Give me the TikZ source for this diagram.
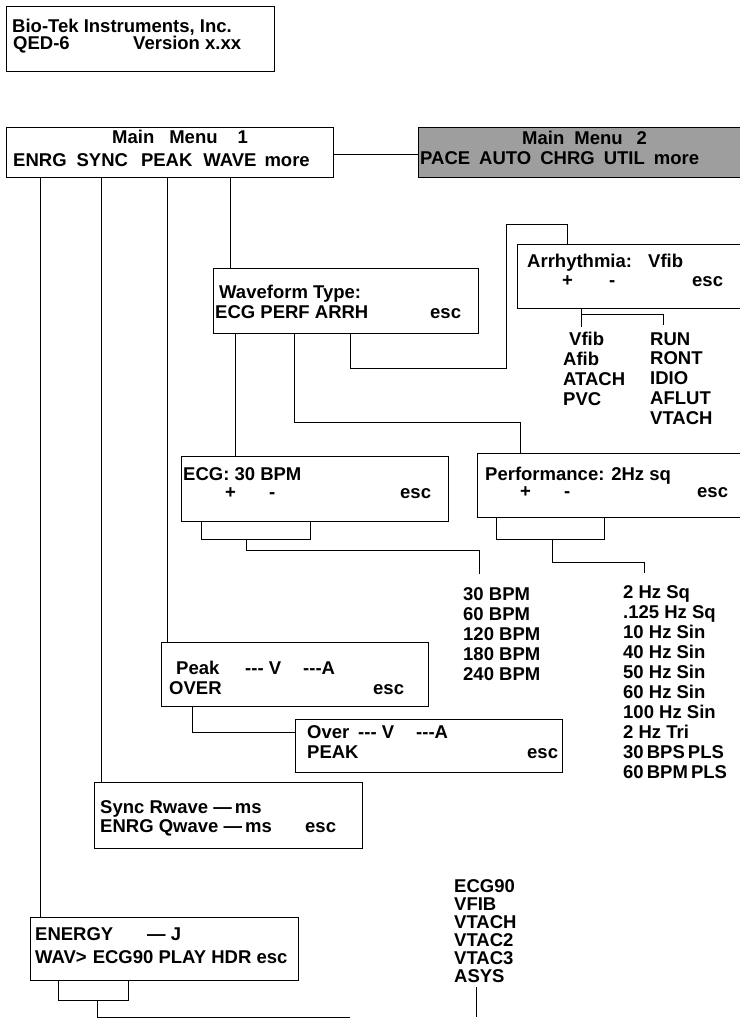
\documentclass[tikz,border=0pt]{standalone}
\usepackage{fontspec}
\setmainfont{Liberation Sans}
\newcommand{\lcdfont}{\fontsize{18.5}{20}\selectfont\bfseries}
\tikzset{
  lcd/.style={draw,line width=1.2pt,anchor=north west,inner sep=0pt},
  wire/.style={line width=0.9pt},
  txt/.style={anchor=base west,inner sep=0pt,font=\lcdfont},
}

\begin{document}
\begin{tikzpicture}[x=1pt,y=-1pt]
    \useasboundingbox (0,0) rectangle (739,1019);
    % display boxes
    \node[lcd,minimum width=268pt,minimum height=65pt] (biotek) at (6,6) {};
    \node[lcd,minimum width=327pt,minimum height=50pt] (mmone) at (6,127) {};
    \node[lcd,fill=black!38,minimum width=330pt,minimum height=50pt] (mmtwo) at (418,127) {};
    \node[lcd,minimum width=265pt,minimum height=65pt] (wavetype) at (213,268) {};
    \node[lcd,minimum width=232pt,minimum height=64pt] (arrh) at (517,244) {};
    \node[lcd,minimum width=267pt,minimum height=65pt] (ecg) at (181,456) {};
    \node[lcd,minimum width=272pt,minimum height=64pt] (perf) at (477,453) {};
    \node[lcd,minimum width=267pt,minimum height=64pt] (peak) at (161,642) {};
    \node[lcd,minimum width=267pt,minimum height=53pt] (over) at (295,719) {};
    \node[lcd,minimum width=268pt,minimum height=66pt] (sync) at (94,782) {};
    \node[lcd,minimum width=268pt,minimum height=63pt] (energy) at (30,917) {};

    % texts
    \node[txt] (biotek-a) at (12,33) {Bio-Tek Instruments, Inc.};
    \node[txt] (biotek-b) at (13,50) {QED-6};
    \node[txt] (biotek-c) at (133,50) {Version x.xx};

    \node[txt] (mmone-a) at (112,144) {Main\hspace{15pt}Menu\hspace{20pt}1};
    \node[txt] (mmone-b) at (13,167) {ENRG\hspace{10pt}SYNC\hspace{13pt}PEAK\hspace{11pt}WAVE\hspace{8pt}more};
    \node[txt] (mmtwo-a) at (522,145) {Main\hspace{10pt}Menu\hspace{14pt}2};
    \node[txt] (mmtwo-b) at (420,165) {PACE\hspace{9pt}AUTO\hspace{9pt}CHRG\hspace{9pt}UTIL\hspace{9pt}more};

    \node[txt] (wavetype-a) at (219,298) {Waveform Type:};
    \node[txt] (wavetype-b) at (215,318) {ECG PERF ARRH};
    \node[txt] (wavetype-esc) at (430,318) {esc};

    \node[txt] (arrh-a) at (527,267) {Arrhythmia:};
    \node[txt] (arrh-b) at (648,267) {Vfib};
    \node[txt] (arrh-plus) at (562,286) {+};
    \node[txt] (arrh-minus) at (609,286) {-};
    \node[txt] (arrh-esc) at (692,286) {esc};

    \node[txt] (ecg-a) at (183,480) {ECG: 30 BPM};
    \node[txt] (ecg-plus) at (225,498) {+};
    \node[txt] (ecg-minus) at (269,498) {-};
    \node[txt] (ecg-esc) at (400,498) {esc};

    \node[txt] (perf-a) at (485,480) {Performance: 2Hz sq};
    \node[txt] (perf-plus) at (520,497) {+};
    \node[txt] (perf-minus) at (564,497) {-};
    \node[txt] (perf-esc) at (697,497) {esc};

    \node[txt] (peak-a) at (176,674) {Peak};
    \node[txt] (peak-b) at (245,674) {-{}-{}- V};
    \node[txt] (peak-c) at (303,674) {-{}-{}-A};
    \node[txt] (peak-d) at (169,694) {OVER};
    \node[txt] (peak-esc) at (373,694) {esc};

    \node[txt] (over-a) at (307,738) {Over};
    \node[txt] (over-b) at (358,738) {-{}-{}- V};
    \node[txt] (over-c) at (416,738) {-{}-{}-A};
    \node[txt] (over-d) at (307,758) {PEAK};
    \node[txt] (over-esc) at (527,758) {esc};

    \node[txt] (sync-a) at (100,813) {Sync Rwave ---\,ms};
    \node[txt] (sync-b) at (100,832) {ENRG Qwave ---\,ms};
    \node[txt] (sync-esc) at (305,832) {esc};

    \node[txt] (energy-a) at (35,940) {ENERGY};
    \node[txt] (energy-b) at (147,940) {--- J};
    \node[txt] (energy-c) at (35,963) {WAV>\hspace{6pt}ECG90 PLAY HDR esc};

    % value lists
    \foreach \t [count=\i from 0] in {\hspace{6pt}Vfib,Afib,ATACH,PVC}
      \node[txt] (arrl\i) at (563,{345+20*\i}) {\t};
    \foreach \t [count=\i from 0] in {RUN,RONT,IDIO,AFLUT,VTACH}
      \node[txt] (arrr\i) at (650,{345+19.8*\i}) {\t};
    \foreach \t [count=\i from 0] in {30 BPM,60 BPM,120 BPM,180 BPM,240 BPM}
      \node[txt] (bpm\i) at (463,{600+20*\i}) {\t};
    \foreach \t [count=\i from 0] in {2 Hz Sq,.125 Hz Sq,10 Hz Sin,40 Hz Sin,50 Hz Sin,
        60 Hz Sin,100 Hz Sin,2 Hz Tri,30\,BPS\,PLS,60\,BPM\,PLS}
      \node[txt] (hz\i) at (623,{598+20.1*\i}) {\t};
    \foreach \t [count=\i from 0] in {ECG90,VFIB,VTACH,VTAC2,VTAC3,ASYS}
      \node[txt] (wav\i) at (454,{892+18*\i}) {\t};

    % free ends
    \coordinate (vfibtop) at (581,327);
    \coordinate (runtop) at (663,325);
    \coordinate (bpmtop) at (479,574);
    \coordinate (hztop) at (644,573);
    \coordinate (wavfoot) at (350,1017);
    \coordinate (asysfoot) at (476,1017);

    % menu tree
    \draw[wire] (mmone.east |- 0,154) -- (mmtwo.west |- 0,154);
    \foreach \x/\b in {40/energy,101/sync,167/peak,230/wavetype}
      \draw[wire] (\x,0 |- mmone.south) -- (\x,0 |- \b.north);
    \draw[wire] (235,0 |- wavetype.south) -- (235,0 |- ecg.north);
    \draw[wire] (294,0 |- wavetype.south) |- (520,422) -- (520,0 |- perf.north);
    \draw[wire] (350,0 |- wavetype.south) |- (506,368) |- (567,224) -- (567,0 |- arrh.north);
    \draw[wire] (581,0 |- arrh.south) -- (vfibtop);
    \draw[wire] (581,314) -| (runtop);
    \draw[wire] (201,0 |- ecg.south) |- (310,539) -- (310,0 |- ecg.south);
    \draw[wire] (246,539) |- (bpmtop |- 0,550) -- (bpmtop);
    \draw[wire] (496,0 |- perf.south) |- (604,539) -- (604,0 |- perf.south);
    \draw[wire] (552,539) |- (hztop |- 0,562) -- (hztop);
    \draw[wire] (192,0 |- peak.south) |- (over.west |- 0,732);
    \draw[wire] (58,0 |- energy.south) |- (128,1000) -- (128,0 |- energy.south);
    \draw[wire] (97,1000) |- (wavfoot);
    \draw[wire] (476,987) -- (asysfoot);
\end{tikzpicture}
\end{document}
